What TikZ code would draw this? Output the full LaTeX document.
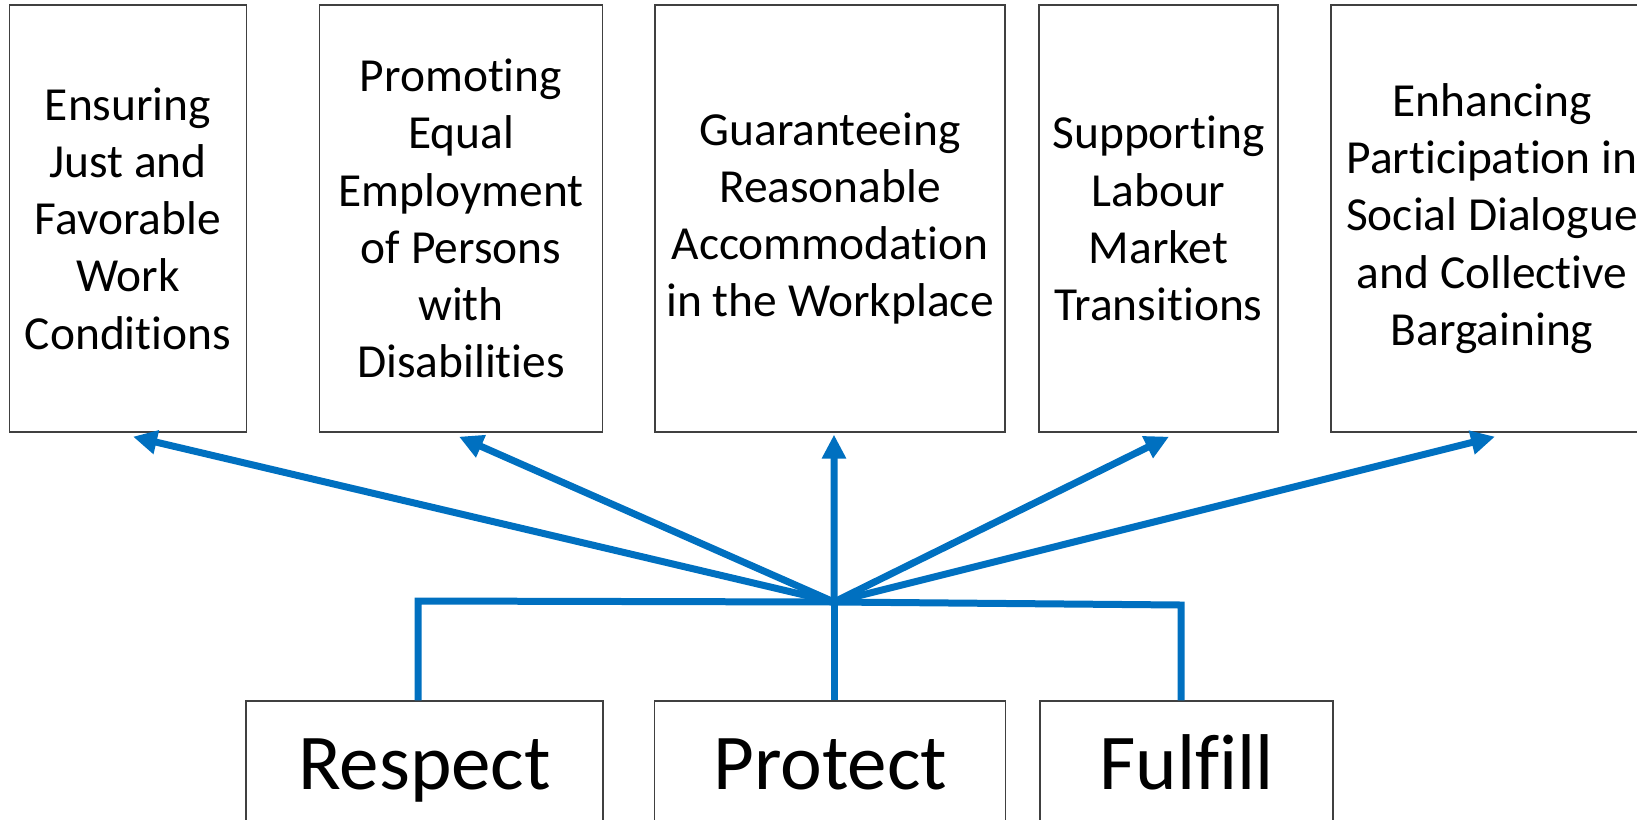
\documentclass[tikz,border=0pt]{standalone}
\usepackage{fontspec}
\setmainfont{Carlito}[RawFeature={-liga}]
\usetikzlibrary{arrows.meta}
\definecolor{linkblue}{HTML}{0070C0}
\definecolor{boxgray}{HTML}{404040}

\begin{document}
\begin{tikzpicture}[x=0.02cm, y=-0.02cm,
    goalbox/.style={draw=boxgray, line width=0.8pt, inner sep=0pt, minimum height=8.54cm,
      align=center, font=\fontsize{27}{32.6}\selectfont},
    dutybox/.style={draw=boxgray, line width=0.8pt, inner sep=0pt, minimum height=2.54cm,
      text height=28.4pt, text depth=0pt, font=\fontsize{45}{52}\selectfont},
    link/.style={linkblue, line width=0.14cm},
    linkarrow/.style={link, -{Triangle[length=0.48cm, width=0.46cm]}}]
  \useasboundingbox (0,0) rectangle (1637,819);
  \clip (0,0) rectangle (1637,819);

  % Goals along the top
  \node[goalbox, minimum width=4.73cm] (g1) at (128,218.5)
    {Ensuring\\Just and\\Favorable\\Work\\Conditions};
  \node[goalbox, minimum width=5.66cm] (g2) at (461,218.5)
    {Promoting\\Equal\\Employment\\of Persons\\with\\Disabilities};
  \node[goalbox, minimum width=7.00cm] (g3) at (830,218.5)
    {Guaranteeing\\Reasonable\\Accommodation\\in the Workplace};
  \node[goalbox, minimum width=4.78cm] (g4) at (1158.5,218.5)
    {Supporting\\Labour\\Market\\Transitions};
  \node[goalbox, minimum width=6.44cm] (g5) at (1492,218.5)
    {Enhancing\\Participation in\\Social Dialogue\\and Collective\\Bargaining};

  % Obligations along the bottom
  \node[dutybox, minimum width=7.14cm] (respect) at (424.5,764.5) {Respect};
  \node[dutybox, minimum width=7.02cm] (protect) at (830,764.5) {Protect};
  \node[dutybox, minimum width=5.86cm] (fulfill) at (1186.5,764.5) {Fulfill};

  % Joining bar
  \coordinate (hub) at (834,602);
  \coordinate (busL) at (418,601);
  \coordinate (busR) at (1181,605);

  \draw[link] (respect.north -| busL) -- (busL) -- (hub) -- (busR) -- (fulfill.north -| busR);
  \draw[link] (protect.north -| hub) -- (hub);

  % Arrows up to each goal
  \draw[linkarrow] (hub) -- ([xshift=0.10cm, yshift=-0.08cm]g1.south);
  \draw[linkarrow] (hub) -- ([xshift=-0.04cm, yshift=-0.08cm]g2.south);
  \draw[linkarrow] (hub) -- ([xshift=0.08cm, yshift=-0.04cm]g3.south);
  \draw[linkarrow] (hub) -- ([xshift=0.21cm, yshift=-0.08cm]g4.south);
  \draw[linkarrow] (hub) -- ([xshift=0.06cm, yshift=-0.08cm]g5.south);
\end{tikzpicture}
\end{document}
